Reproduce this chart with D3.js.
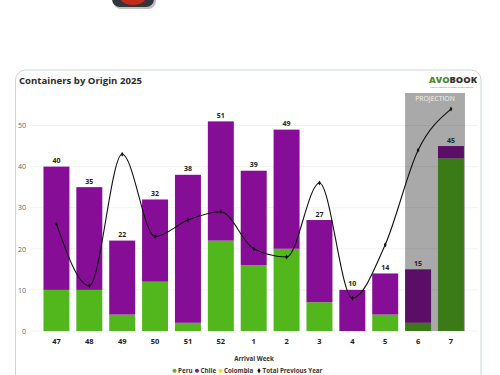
<!DOCTYPE html>
<html>
<head>
<meta charset="utf-8">
<script src="https://cdn.jsdelivr.net/npm/d3@7"></script>
<style>
  html, body { margin: 0; background: #fff; overflow: hidden; }
  text { font-family: "Open Sans", sans-serif; }
</style>
</head>
<body>
<div id="chart"></div>
<script>
const width = 500;
const height = 375;

const weeks = ["47", "48", "49", "50", "51", "52", "1", "2", "3", "4", "5", "6", "7"];
const peru = [10, 10, 4, 12, 2, 22, 16, 20, 7, 0, 4, 2, 42];
const chile = [30, 25, 18, 20, 36, 29, 23, 29, 20, 10, 10, 13, 3];
const colombia = [0, 0, 0, 0, 0, 0, 0, 0, 0, 0, 0, 0, 0];
const previousYear = [26, 11, 43, 23, 27, 29, 20, 18, 36, 8, 21, 44, 54];
const projectionWeeks = ["6", "7"];
const yTicks = [0, 10, 20, 30, 40, 50];
const legendNames = ["Peru", "Chile", "Colombia", "Total Previous Year"];

const svg = d3.select("#chart").append("svg")
    .attr("width", width)
    .attr("height", height)
    .style("display", "block");

// dark button cut off at the top of the page
svg.append("rect").attr("x", 113).attr("y", -20).attr("width", 43).attr("height", 29).attr("rx", 8).attr("fill", "#bdbdbd");
svg.append("rect").attr("x", 112).attr("y", -20).attr("width", 42).attr("height", 27).attr("rx", 8).attr("fill", "#33353c");
svg.append("ellipse").attr("cx", 133).attr("cy", -3).attr("rx", 13).attr("ry", 8).attr("fill", "#c42a1a");

// card
svg.append("path")
    .attr("d", "M15.5,380V80a10,10 0 0 1 10,-10H471a10,10 0 0 1 10,10V380")
    .attr("fill", "#fff")
    .attr("stroke", "#ccd8cf")
    .attr("stroke-width", 1);

svg.append("text")
    .attr("x", 19).attr("y", 83.5)
    .attr("font-size", 9.6).attr("font-weight", 700).attr("fill", "#2b2b2b")
    .text("Containers by Origin 2025");

// logo
const logo = svg.append("text")
    .attr("x", 429).attr("y", 82.5)
    .attr("font-size", 9.3).attr("font-weight", 800);
logo.append("tspan").attr("fill", "#4f8a2c").text("AVO");
logo.append("tspan").attr("fill", "#333").text("BOOK");
svg.append("text")
    .attr("x", 430).attr("y", 87.8)
    .attr("font-size", 2.4).attr("fill", "#5b7a4a")
    .text("CONTAINERS & MARKET INTELLIGENCE");

const x = d3.scaleBand()
    .domain(weeks)
    .range([40, 467.4])
    .paddingInner(0.21)
    .paddingOuter(0.105);

const y = d3.scaleLinear()
    .domain([0, 50])
    .range([331, 125.5]);

// grid
svg.append("g").selectAll("line")
    .data(yTicks)
    .join("line")
    .attr("x1", 30).attr("x2", 478)
    .attr("y1", d => y(d)).attr("y2", d => y(d))
    .attr("stroke", "#f3f3f3")
    .attr("stroke-width", 1);

// axes
const yAxis = svg.append("g")
    .attr("transform", "translate(28,0)")
    .call(d3.axisLeft(y).tickValues(yTicks).tickSize(0).tickPadding(2));
yAxis.select(".domain").remove();
yAxis.selectAll("text").attr("font-size", 7).attr("fill", "#666").style("font-family", '"Open Sans", sans-serif');

const xAxis = svg.append("g")
    .attr("transform", "translate(0,331)")
    .call(d3.axisBottom(x).tickSize(0).tickPadding(8));
xAxis.select(".domain").remove();
xAxis.selectAll("text").attr("font-size", 7.5).attr("font-weight", 700).attr("fill", "#222").style("font-family", '"Open Sans", sans-serif');

// stacked bars
const rows = weeks.map((w, i) => ({ week: w, peru: peru[i], chile: chile[i], colombia: colombia[i] }));
const stack = d3.stack().keys(["peru", "chile", "colombia"]);
const colors = { peru: "#52b71c", chile: "#860d96", colombia: "#f2dc3c" };

svg.append("g").selectAll("g")
    .data(stack(rows))
    .join("g")
    .attr("fill", d => colors[d.key])
    .selectAll("rect")
    .data(d => d)
    .join("rect")
    .attr("x", d => x(d.data.week))
    .attr("y", d => y(d[1]))
    .attr("width", x.bandwidth())
    .attr("height", d => y(d[0]) - y(d[1]));

// projection band goes over the bars
const bandLeft = x(projectionWeeks[0]);
const bandRight = x(projectionWeeks[1]) + x.bandwidth() + 1;
svg.append("rect")
    .attr("x", bandLeft)
    .attr("y", 93)
    .attr("width", bandRight - bandLeft)
    .attr("height", y(0) - 93)
    .attr("fill", "rgb(16,16,16)")
    .attr("opacity", 0.36);
svg.append("text")
    .attr("x", (bandLeft + bandRight) / 2).attr("y", 101)
    .attr("text-anchor", "middle")
    .attr("font-size", 6.8).attr("fill", "#f2f2f2")
    .text("PROJECTION");

// totals above the stacks
svg.append("g").selectAll("text")
    .data(rows)
    .join("text")
    .attr("x", d => x(d.week) + x.bandwidth() / 2)
    .attr("y", d => y(d.peru + d.chile + d.colombia) - 3.5)
    .attr("text-anchor", "middle")
    .attr("font-size", 7).attr("font-weight", 700).attr("fill", "#222")
    .text(d => d.peru + d.chile + d.colombia);

// previous year line
const lineX = (d, i) => x(weeks[i]) + x.bandwidth() / 2;
const line = d3.line()
    .x(lineX)
    .y(d => y(d))
    .curve(d3.curveMonotoneX);
svg.append("path")
    .attr("d", line(previousYear))
    .attr("fill", "none")
    .attr("stroke", "#111")
    .attr("stroke-width", 1.1);
svg.append("g").selectAll("path")
    .data(previousYear)
    .join("path")
    .attr("transform", (d, i) => `translate(${lineX(d, i)},${y(d)})`)
    .attr("d", d3.symbol().type(d3.symbolDiamond).size(7))
    .attr("fill", "#111");

// axis title and legend
svg.append("text")
    .attr("x", 254).attr("y", 361)
    .attr("text-anchor", "middle")
    .attr("font-size", 6.2).attr("font-weight", 700).attr("fill", "#333")
    .text("Arrival Week");

const legendColors = ["#5fae3c", "#7d1a91", "#f2dc3c", "#111"];
const legendX = [174.5, 197, 220.5, 259];
const legend = svg.append("g").selectAll("g")
    .data(legendNames)
    .join("g")
    .attr("transform", (d, i) => `translate(${legendX[i]},370.7)`);
legend.append("path")
    .attr("d", (d, i) => d3.symbol().type(i === 3 ? d3.symbolDiamond : d3.symbolCircle).size(i === 3 ? 9 : 13)())
    .attr("fill", (d, i) => legendColors[i]);
legend.append("text")
    .attr("x", 3.6).attr("y", 2.2)
    .attr("font-size", 6.2).attr("font-weight", 700).attr("fill", "#333")
    .text(d => d);
</script>
</body>
</html>
